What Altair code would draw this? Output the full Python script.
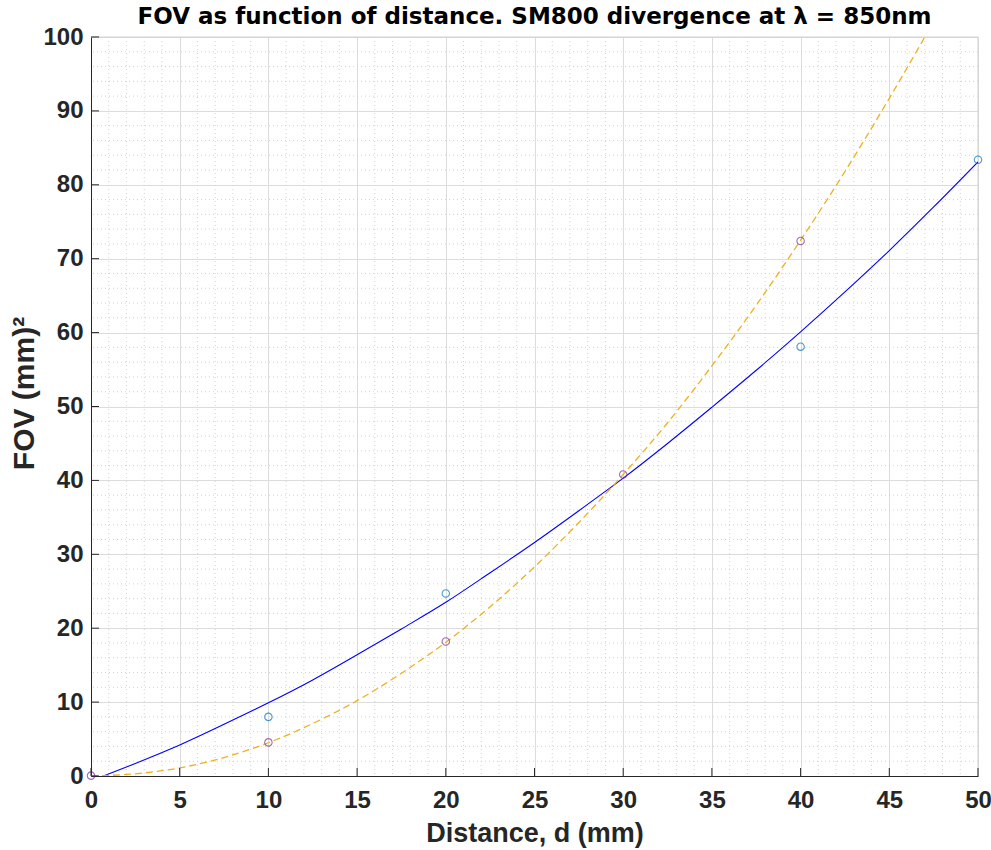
import altair as alt
import pandas as pd

# ---- data ----
blue_x = [10, 20, 40, 50]
blue_y = [8.0, 24.7, 58.1, 83.4]

purple_x = [0, 10, 20, 30, 40]
purple_y = [0.05, 4.55, 18.2, 40.8, 72.4]

fit_x = [0.7, 2.5, 5, 7.5, 10, 12.5, 15, 17.5, 20, 22.5, 25, 27.5, 30,
         32.5, 35, 37.5, 40, 42.5, 45, 47.5, 50]
fit_y = [0.0, 1.7, 4.2, 7.0, 9.9, 13.0, 16.4, 19.9, 23.5, 27.5, 31.6, 35.9,
         40.3, 45.0, 49.9, 54.9, 60.1, 65.5, 71.1, 77.0, 83.1]

quad_x = [0, 2.5, 5, 7.5, 10, 12.5, 15, 17.5, 20, 22.5, 25, 27.5, 30,
          32.5, 35, 37.5, 40, 42.5, 45, 47]
quad_y = [0.0, 0.3, 1.1, 2.5, 4.5, 7.1, 10.2, 13.9, 18.1, 22.9, 28.3, 34.3,
          40.8, 47.8, 55.5, 63.7, 72.5, 81.8, 91.7, 100.0]

x_ticks = [0, 5, 10, 15, 20, 25, 30, 35, 40, 45, 50]
y_ticks = [0, 10, 20, 30, 40, 50, 60, 70, 80, 90, 100]
x_minor = [v for v in range(1, 50) if v % 5 != 0]
y_minor = [v for v in range(2, 100, 2) if v % 10 != 0]

FONT = "Liberation Sans"
TFONT = "DejaVu Sans"
DARK = "#262626"

xscale = alt.Scale(domain=[0, 50], nice=False, zero=False)
yscale = alt.Scale(domain=[0, 100], nice=False, zero=False)

xaxis = alt.Axis(title="Distance, d (mm)", values=x_ticks, grid=True,
                 gridColor="#dcdcdc", gridWidth=1, ticks=False, tickSize=0,
                 domainColor=DARK, domainWidth=1,
                 labelFont=FONT, labelFontSize=24, labelFontWeight="bold",
                 labelColor=DARK, labelPadding=12, labelFlush=False,
                 titleFont=FONT, titleFontSize=27, titleFontWeight="bold",
                 titleColor=DARK, titleY=44, titleBaseline="top")
yaxis = alt.Axis(title="FOV (mm)²", values=y_ticks, grid=True,
                 gridColor="#dcdcdc", gridWidth=1, ticks=False, tickSize=0,
                 domainColor=DARK, domainWidth=1,
                 labelFont=FONT, labelFontSize=24, labelFontWeight="bold",
                 labelColor=DARK, labelPadding=8, labelFlush=False,
                 titleFont=FONT, titleFontSize=30, titleFontWeight="bold",
                 titleColor=DARK, titleX=-52, titleY=356, titleAngle=270,
                 titleBaseline="bottom", titleAlign="center")


def X():
    return alt.X("x:Q", scale=xscale, axis=xaxis)


def Y():
    return alt.Y("y:Q", scale=yscale, axis=yaxis)


fit_df = pd.DataFrame({"x": fit_x, "y": fit_y})
quad_df = pd.DataFrame({"x": quad_x, "y": quad_y})
blue_df = pd.DataFrame({"x": blue_x, "y": blue_y})
purple_df = pd.DataFrame({"x": purple_x, "y": purple_y})
xminor_df = pd.DataFrame({"x": x_minor})
yminor_df = pd.DataFrame({"y": y_minor})
xtick_df = pd.DataFrame({"x": x_ticks})
ytick_df = pd.DataFrame({"y": y_ticks})
xedge_df = pd.DataFrame({"x": [50]})
yedge_df = pd.DataFrame({"y": [100]})

minor_v = alt.Chart(xminor_df).mark_rule(
    color="#d2d2d2", strokeWidth=1, strokeDash=[1, 3]).encode(x=X())
minor_h = alt.Chart(yminor_df).mark_rule(
    color="#d2d2d2", strokeWidth=1, strokeDash=[1, 3]).encode(y=Y())

edge_right = alt.Chart(xedge_df).mark_rule(color="#d0d0d0", strokeWidth=1).encode(x=X())
edge_top = alt.Chart(yedge_df).mark_rule(color="#d0d0d0", strokeWidth=1).encode(y=Y())

fit_line = alt.Chart(fit_df).mark_line(
    color="#0000FF", strokeWidth=1.1, interpolate="monotone", clip=True
).encode(x=X(), y=Y())

quad_line = alt.Chart(quad_df).mark_line(
    color="#EDB120", strokeWidth=1.3, strokeDash=[7, 4],
    interpolate="monotone", clip=True
).encode(x=X(), y=Y())

blue_pts = alt.Chart(blue_df).mark_point(
    shape="circle", filled=False, color="#0072BD", size=55, strokeWidth=1.1
).encode(x=X(), y=Y())

purple_pts = alt.Chart(purple_df).mark_point(
    shape="circle", filled=False, color="#7E2F8E", size=55, strokeWidth=1.1
).encode(x=X(), y=Y())

ytick_marks = alt.Chart(ytick_df).mark_rule(color=DARK, strokeWidth=1).encode(
    y=Y(), x=alt.value(0), x2=alt.value(8))
xtick_marks = alt.Chart(xtick_df).mark_rule(color=DARK, strokeWidth=1).encode(
    x=X(), y=alt.value(739), y2=alt.value(731))

chart = alt.layer(
    minor_v, minor_h, edge_right, edge_top, fit_line, quad_line,
    blue_pts, purple_pts, ytick_marks, xtick_marks
).properties(
    width=887, height=739,
    title=alt.TitleParams(
        text="FOV as function of distance. SM800 divergence at λ = 850nm",
        font=TFONT, fontSize=23, fontWeight="bold", color="#000000",
        anchor="middle", offset=7, dy=11),
    autosize=alt.AutoSizeParams(type="none"),
    padding={"left": 91, "top": 37, "right": 13, "bottom": 74},
    background="white",
).configure_view(stroke=None)

chart.save("out.html", embed_options={"renderer": "svg", "actions": False})
